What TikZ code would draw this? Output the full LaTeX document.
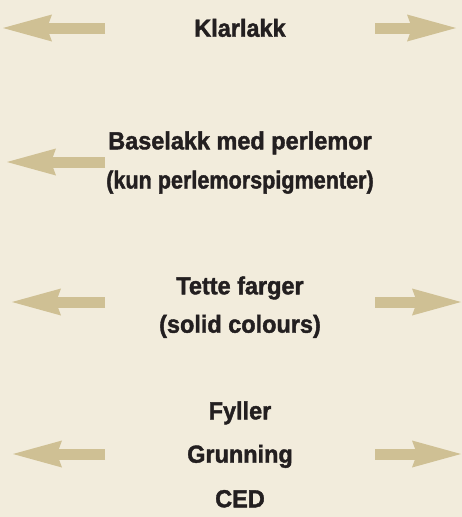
\documentclass[tikz,border=0pt]{standalone}
\usepackage{fontspec}
\usepackage{graphicx}
\setmainfont[FakeStretch=0.95, BoldFeatures={FakeBold=1.6}]{Liberation Sans}
\usetikzlibrary{arrows.meta}

\definecolor{paper}{HTML}{F2ECDC}
\definecolor{tan}{HTML}{CFC094}
\definecolor{ink}{HTML}{231F20}

\begin{document}
\begin{tikzpicture}[
  x=1pt, y=-1pt,
  font=\fontsize{24.7}{30}\selectfont\bfseries,
  every node/.style={text=ink},
  lag/.style={anchor=base, inner sep=0pt},
  pil/.style={draw=tan, line width=11pt,
    -{Stealth[length=49pt, width=27pt, inset=5pt, line width=0pt]}}]

% background, fixes the page size
\useasboundingbox (0,0) rectangle (462,517);
\fill[paper] (0,0) rectangle (462,517);

% layer names
\node[lag] (klarlakk) at (240,36.7) {Klarlakk};
\node[lag] (baselakk) at (240,149.3) {Baselakk med perlemor};
\node[lag] (pigment) at (240,188.5) {\scalebox{0.92}[1]{(kun perlemorspigmenter)}};
\node[lag] (tette) at (240,294.3) {Tette farger};
\node[lag] (solid) at (240,332.7) {(solid colours)};
\node[lag] (fyller) at (240,419.3) {Fyller};
\node[lag] (grunning) at (240,462.7) {Grunning};
\node[lag] (ced) at (240,507.3) {CED};

% arrow ends
\coordinate (v1) at (105,28);  \coordinate (vt1) at (3,28);
\coordinate (h1) at (375,28);  \coordinate (ht1) at (456,28);
\coordinate (v2) at (105,162); \coordinate (vt2) at (7,162);
\coordinate (v3) at (105,302); \coordinate (vt3) at (12,302);
\coordinate (h3) at (375,302); \coordinate (ht3) at (461,302);
\coordinate (v4) at (105,454); \coordinate (vt4) at (13,454);
\coordinate (h4) at (375,454); \coordinate (ht4) at (461,454);

% arrows
\draw[pil] (v1) -- (vt1);
\draw[pil] (h1) -- (ht1);
\draw[pil] (v2) -- (vt2);
\draw[pil] (v3) -- (vt3);
\draw[pil] (h3) -- (ht3);
\draw[pil] (v4) -- (vt4);
\draw[pil] (h4) -- (ht4);

\end{tikzpicture}
\end{document}
